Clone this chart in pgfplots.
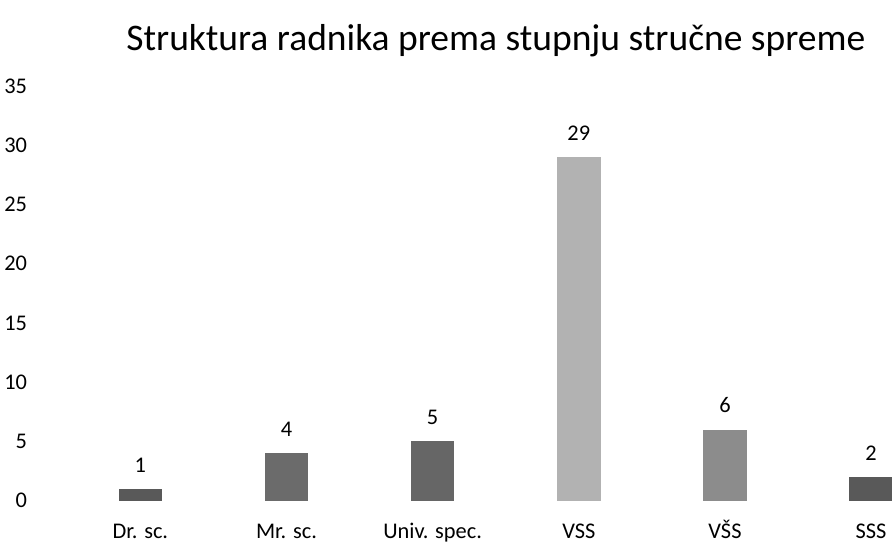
\documentclass[border=0pt]{standalone}
\usepackage{fontspec}
\setmainfont{Carlito}
\usepackage{pgfplots}
\pgfplotsset{compat=1.18}
\begin{document}
\begin{tikzpicture}
\begin{axis}[
  scale only axis,
  width=626.25pt, height=315pt,
  xmin=-0.5, xmax=5.142,
  ymin=0, ymax=35,
  ytick={0,5,...,35},
  xtick={0,1,2,3,4,5},
  xticklabels={Dr. sc., Mr. sc., Univ. spec., VSS, VŠS, SSS},
  axis line style={draw=none},
  major tick length=0pt,
  tick label style={font=\fontsize{17}{20}\selectfont, text=black},
  yticklabel style={xshift=-27pt},
  xticklabel style={anchor=base, yshift=-29pt},
  /pgf/number format/assume math mode=true,
  ybar, bar width=33pt, bar shift=0pt,
  nodes near coords,
  every node near coord/.append style={font=\fontsize{17}{20}\selectfont, text=black, yshift=9pt},
  clip=true,
]
\addplot[fill=black!65, draw=none] coordinates {(0,1)};
\addplot[fill=black!58, draw=none] coordinates {(1,4)};
\addplot[fill=black!60, draw=none] coordinates {(2,5)};
\addplot[fill=black!30, draw=none] coordinates {(3,29)};
\addplot[fill=black!45, draw=none] coordinates {(4,6)};
\addplot[fill=black!65, draw=none] coordinates {(5,2)};
\end{axis}
\node[font=\fontsize{28.5}{32}\selectfont, text=black] at (325.5pt,349.5pt) {Struktura radnika prema stupnju stručne spreme};
\path[use as bounding box] (-42.75pt,-31.5pt) rectangle (626.25pt,380.25pt);
\end{tikzpicture}
\end{document}
